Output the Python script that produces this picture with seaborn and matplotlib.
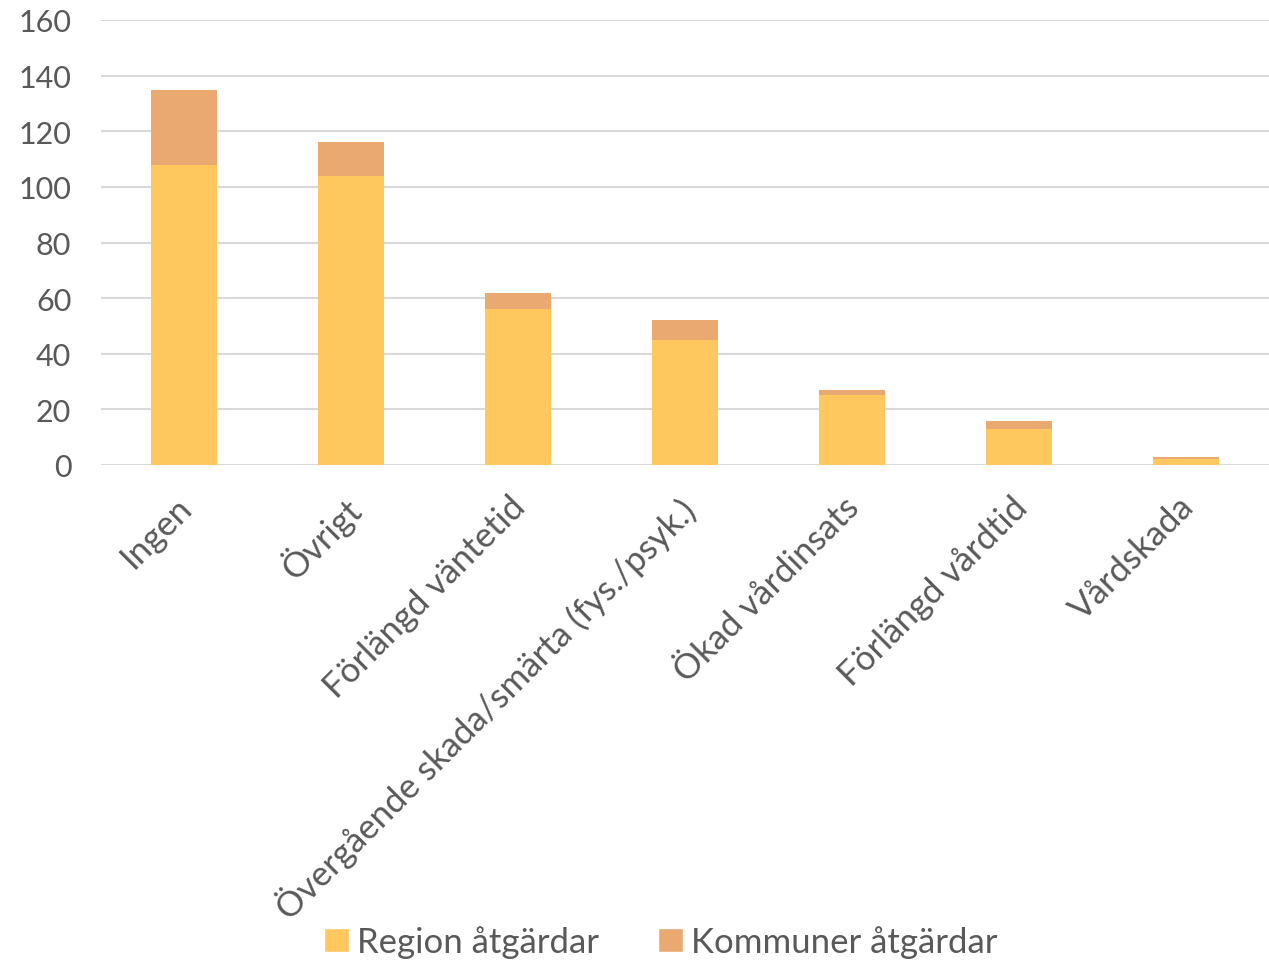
import pandas as pd
import matplotlib.pyplot as plt
import matplotlib.transforms as mtrans
import seaborn as sns
from matplotlib.patches import Patch

categories = ['Ingen', 'Övrigt', 'Förlängd väntetid',
              'Övergående skada/smärta (fys./psyk.)', 'Ökad vårdinsats',
              'Förlängd vårdtid', 'Vårdskada']
region = [108, 104, 56, 45, 25, 13, 2]
kommun = [27, 12, 6, 7, 2, 3, 1]

REGION_COLOR = '#FFC85E'
KOMMUN_COLOR = '#E9A971'
TEXT_COLOR = '#595959'

df = pd.DataFrame({'kategori': categories, 'region': region, 'kommun': kommun})
df['total'] = df['region'] + df['kommun']

sns.set_theme(style='white')
plt.rcParams['font.family'] = ['Lato', 'DejaVu Sans']

fig = plt.figure(figsize=(12.69, 9.62), dpi=100)
ax = fig.add_axes([100.5 / 1269, 1 - 466 / 962, 1169 / 1269, 445 / 962])

# stacked look: totals in kommun colour, region drawn over them
sns.barplot(data=df, x='kategori', y='total', color=KOMMUN_COLOR,
            width=0.4, saturation=1, linewidth=0, ax=ax, zorder=2)
sns.barplot(data=df, x='kategori', y='region', color=REGION_COLOR,
            width=0.4, saturation=1, linewidth=0, ax=ax, zorder=3)

ax.set_ylim(0, 160)
ax.set_yticks(range(0, 161, 20))
ax.set_xlim(-0.5, len(categories) - 0.5)
ax.grid(axis='y', color='#D9D9D9', linewidth=1.5, zorder=0)
ax.set_axisbelow(True)
for s in ax.spines.values():
    s.set_visible(False)
ax.set_xlabel('')
ax.set_ylabel('')
ax.tick_params(axis='y', length=0, pad=21, labelsize=22, labelcolor=TEXT_COLOR)
ax.tick_params(axis='x', length=0, pad=18, labelsize=25, labelcolor=TEXT_COLOR)
ax.set_xticks(range(len(categories)))
ax.set_xticklabels(categories, rotation=45, ha='right', rotation_mode='anchor')
shift = mtrans.ScaledTranslation(-9 / 100, 0, fig.dpi_scale_trans)
for lab in ax.get_xticklabels():
    lab.set_transform(lab.get_transform() + shift)

handles = [Patch(facecolor=REGION_COLOR, label='Region åtgärdar'),
           Patch(facecolor=KOMMUN_COLOR, label='Kommuner åtgärdar')]
fig.legend(handles=handles, loc='center', bbox_to_anchor=(0.521, 1 - 943 / 962),
           ncol=2, frameon=False, fontsize=25, labelcolor=TEXT_COLOR,
           handlelength=0.7, handleheight=0.7, handletextpad=0.25,
           columnspacing=1.7)

fig.savefig('out.png', dpi=100)
